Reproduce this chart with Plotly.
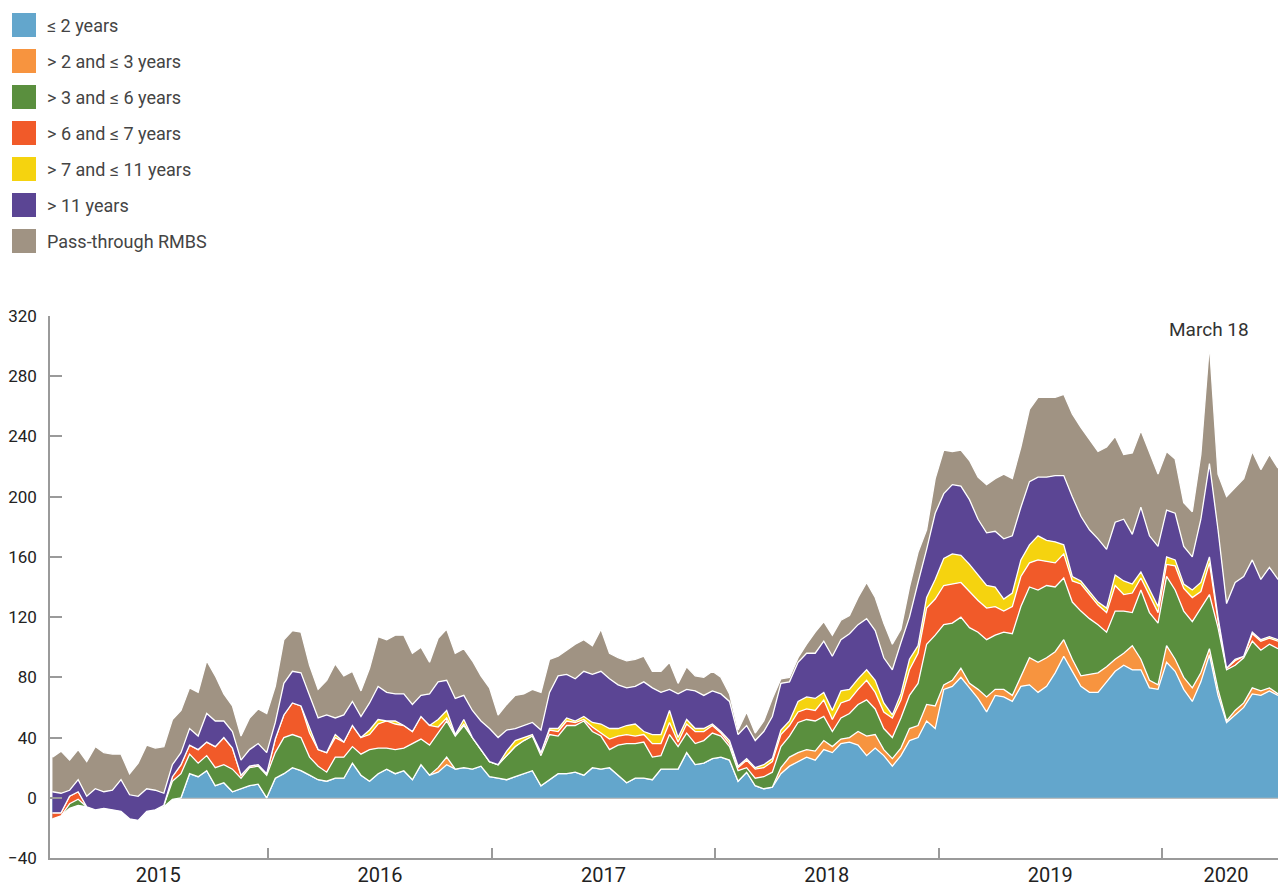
import pandas as pd
import plotly.graph_objects as go

# Weekly observations sampled every two weeks (Wednesdays)
dates = pd.date_range("2015-01-14", periods=144, freq="14D")

series_names = ["≤ 2 years", "> 2 and ≤ 3 years", "> 3 and ≤ 6 years", "> 6 and ≤ 7 years",
                "> 7 and ≤ 11 years", "> 11 years", "Pass-through RMBS"]
colors = ["#63A6CC", "#F7943F", "#5A8F3E", "#F15A29", "#F5D30F", "#5B4594", "#A09383"]

le2 = [-14, -12, -7, -5, -6, -8, -7, -8, -9, -14, -15, -9, -8, -6, -1, 0, 16, 14, 18, 8,
       10, 4, 6, 8, 9, 0, 13, 16, 20, 18, 15, 12, 11, 13, 13, 23, 15, 11, 16, 19,
       16, 18, 12, 22, 15, 17, 22, 19, 20, 19, 21, 14, 13, 12, 14, 16, 18, 8, 12, 16,
       16, 17, 15, 20, 19, 20, 15, 10, 13, 13, 12, 19, 19, 19, 30, 22, 23, 26, 27, 25,
       11, 17, 8, 6, 7, 16, 21, 24, 27, 25, 32, 30, 36, 37, 35, 28, 33, 28, 21, 28,
       38, 40, 51, 46, 72, 74, 80, 73, 66, 57, 68, 67, 64, 74, 75, 70, 74, 83, 94, 84,
       74, 70, 70, 77, 84, 88, 85, 85, 73, 72, 90, 84, 72, 64, 77, 95, 68, 50, 55, 60,
       69, 68, 71, 68]
gt2_le3 = [0, 0, 0, 0, 0, 0, 0, 0, 0, 0, 0, 0, 0, 0, 0, 0, 0, 0, 0, 0,
           0, 0, 0, 0, 0, 0, 0, 0, 0, 0, 0, 0, 0, 0, 0, 0, 0, 0, 0, 0,
           0, 0, 0, 0, 0, 3, 5, 0, 0, 0, 0, 0, 0, 0, 0, 0, 0, 0, 0, 0,
           0, 0, 0, 0, 0, 0, 0, 0, 0, 0, 0, 0, 0, 0, 0, 0, 0, 0, 0, 0,
           0, 0, 0, 0, 0, 4, 6, 6, 5, 6, 6, 4, 3, 3, 9, 13, 9, 4, 5, 5,
           8, 8, 11, 15, 3, 4, 6, 3, 6, 10, 4, 5, 4, 6, 18, 20, 19, 14, 11, 8,
           7, 12, 13, 10, 8, 8, 16, 7, 5, 3, 11, 8, 8, 9, 6, 4, 4, 1, 3, 3,
           4, 3, 2, 1]
gt3_le6 = [0, 0, 3, 4, 0, 0, 0, 0, 0, 0, 0, 0, 0, 1, 12, 16, 13, 9, 10, 12,
           12, 15, 7, 12, 12, 15, 17, 24, 22, 22, 12, 9, 6, 14, 14, 11, 14, 21, 17, 14,
           16, 15, 24, 17, 20, 23, 24, 22, 28, 21, 11, 10, 9, 16, 20, 22, 23, 20, 30, 25,
           32, 31, 36, 24, 22, 12, 20, 26, 23, 24, 15, 9, 23, 15, 13, 14, 15, 17, 14, 9,
           7, 3, 5, 8, 10, 14, 14, 20, 20, 20, 16, 10, 14, 16, 18, 24, 17, 14, 14, 20,
           22, 28, 40, 47, 40, 38, 34, 37, 38, 38, 36, 38, 41, 47, 47, 48, 48, 43, 41, 38,
           43, 37, 32, 23, 32, 28, 22, 46, 45, 41, 46, 46, 44, 44, 43, 36, 41, 34, 30, 30,
           31, 27, 29, 30]
gt6_le7 = [4, 2, 5, 5, 0, 0, 0, 0, 0, 0, 0, 0, 0, 0, 3, 6, 6, 9, 9, 14,
           18, 14, 2, 1, 1, 1, 9, 15, 21, 21, 16, 11, 13, 13, 10, 14, 11, 10, 16, 18,
           17, 15, 8, 15, 13, 4, 2, 1, 1, 0, 0, 0, 0, 0, 0, 0, 0, 2, 3, 3,
           3, 2, 1, 3, 2, 7, 6, 6, 5, 5, 9, 8, 8, 3, 6, 8, 6, 5, 2, 2,
           2, 5, 6, 6, 7, 8, 7, 7, 7, 7, 11, 8, 10, 9, 10, 13, 11, 11, 13, 12,
           17, 20, 24, 24, 26, 26, 23, 24, 21, 21, 19, 14, 18, 20, 16, 20, 16, 16, 16, 14,
           18, 16, 13, 13, 17, 11, 13, 8, 11, 7, 8, 16, 15, 16, 11, 21, 5, 1, 3, 1,
           5, 6, 4, 5]
gt7_le11 = [0, 0, 0, 0, 0, 0, 0, 0, 0, 0, 0, 0, 0, 0, 0, 0, 0, 0, 0, 0,
            0, 0, 0, 0, 0, 0, 0, 0, 0, 0, 3, 0, 0, 2, 0, 0, 0, 3, 3, 0,
            2, 0, 0, 0, 0, 5, 5, 0, 3, 0, 0, 0, 0, 3, 4, 2, 1, 0, 1, 2,
            2, 1, 2, 3, 6, 7, 5, 6, 8, 2, 6, 6, 8, 3, 3, 2, 2, 1, 1, 2,
            1, 1, 1, 2, 2, 3, 3, 7, 8, 8, 5, 6, 8, 7, 7, 7, 8, 6, 2, 4,
            7, 5, 7, 13, 18, 20, 18, 18, 17, 15, 13, 8, 9, 11, 12, 16, 14, 14, 6, 3,
            2, 2, 2, 3, 7, 9, 6, 4, 4, 4, 5, 4, 3, 5, 6, 4, 2, 0, 1, 0,
            1, 1, 1, 1]
gt11 = [14, 13, 4, 8, 7, 14, 11, 13, 21, 16, 16, 15, 13, 8, 8, 8, 11, 9, 19, 17,
        11, 11, 10, 11, 14, 14, 11, 21, 21, 22, 22, 21, 25, 11, 18, 16, 14, 18, 22, 19,
        18, 21, 18, 14, 21, 25, 20, 24, 16, 18, 19, 22, 18, 14, 8, 8, 8, 15, 24, 35,
        29, 28, 30, 32, 35, 33, 29, 25, 25, 33, 31, 28, 14, 29, 20, 25, 22, 22, 25, 26,
        21, 22, 18, 22, 28, 31, 26, 26, 29, 30, 34, 36, 34, 37, 36, 34, 33, 30, 30, 34,
        28, 42, 32, 44, 43, 46, 46, 43, 37, 35, 37, 40, 38, 35, 42, 39, 42, 44, 46, 53,
        43, 41, 42, 39, 35, 41, 33, 43, 36, 40, 31, 31, 25, 22, 42, 62, 58, 43, 51, 53,
        48, 40, 46, 40]
pass_through = [23, 28, 20, 20, 23, 28, 26, 24, 17, 14, 22, 29, 28, 31, 30, 28, 27, 29, 35, 30,
                18, 17, 16, 21, 23, 26, 24, 29, 27, 27, 20, 19, 23, 36, 26, 20, 17, 23, 33, 35,
                39, 39, 34, 32, 21, 29, 34, 30, 31, 33, 30, 27, 15, 17, 22, 21, 22, 25, 22, 13,
                16, 23, 21, 19, 28, 17, 18, 18, 18, 17, 11, 14, 18, 7, 15, 10, 12, 13, 11, 5,
                3, 9, 5, 7, 12, 3, 3, 3, 6, 14, 13, 14, 13, 12, 18, 24, 22, 23, 17, 9,
                20, 20, 13, 23, 29, 22, 24, 26, 28, 32, 35, 43, 38, 40, 48, 53, 53, 52, 54, 55,
                59, 60, 58, 68, 57, 43, 54, 51, 55, 48, 39, 36, 29, 30, 43, 79, 37, 71, 63, 65,
                72, 73, 75, 74]

series = [le2, gt2_le3, gt3_le6, gt6_le7, gt7_le11, gt11, pass_through]

year_labels = ["2015", "2016", "2017", "2018", "2019", "2020"]
year_label_pos = ["2015-07-06", "2016-07-02", "2017-07-02", "2018-07-02", "2019-07-02", "2020-04-14"]
y_ticks = [-40, 0, 40, 80, 120, 160, 200, 240, 280, 320]

FONT = "Roboto"
fig = go.Figure()
for name, vals, col in zip(series_names, series, colors):
    fig.add_trace(go.Scatter(
        x=dates, y=vals, name=name, stackgroup="one", mode="lines",
        line=dict(color="white", width=1.3), fillcolor=col, showlegend=False,
        hoverinfo="skip",
    ))

# Plot area geometry (pixels)
W, H = 1278, 888
L, R, T, B = 50, 0, 316, 30
pw, ph = W - L - R, H - T - B

def px_x(p):
    return (p - L) / pw

def px_y(p):
    return (H - B - p) / ph

shapes = []
annotations = []
for k, (name, col) in enumerate(zip(series_names, colors)):
    top = 13 + 36 * k
    shapes.append(dict(type="rect", xref="paper", yref="paper",
                       x0=px_x(12), x1=px_x(36), y0=px_y(top + 24), y1=px_y(top),
                       fillcolor=col, line=dict(width=0)))
    annotations.append(dict(xref="paper", yref="paper", x=px_x(45), y=px_y(top + 12),
                            text=name, showarrow=False, xanchor="left", yanchor="middle",
                            font=dict(family=FONT, size=18, color="#444444")))

annotations.append(dict(x="2020-03-18", y=311, xref="x", yref="y", text="March 18",
                        showarrow=False, xanchor="center", yanchor="middle",
                        font=dict(family=FONT, size=19, color="#333333")))

fig.update_layout(
    width=W, height=H, margin=dict(l=L, r=R, t=T, b=B, autoexpand=False),
    plot_bgcolor="white", paper_bgcolor="white",
    shapes=shapes, annotations=annotations, showlegend=False,
    font=dict(family=FONT, color="#333333"),
)
fig.update_xaxes(
    range=["2015-01-10", "2020-07-08"], type="date", automargin=False,
    showgrid=False, zeroline=False,
    showline=True, linecolor="#9a9a9a", linewidth=1.5,
    tickvals=year_label_pos, ticktext=year_labels, ticks="",
    tickfont=dict(family=FONT, size=20, color="#222222"),
    ticklabelstandoff=-2,
    minor=dict(ticks="inside", ticklen=10, tickcolor="#9a9a9a", tickwidth=1.5,
               dtick="M12", tick0="2015-01-01", showgrid=False),
)
fig.update_yaxes(
    range=[-40, 320], tickvals=y_ticks, showgrid=False, automargin=False,
    zeroline=True, zerolinecolor="#bdbdbd", zerolinewidth=1.5,
    showline=True, linecolor="#9a9a9a", linewidth=1.5,
    ticks="inside", ticklen=12, tickcolor="#9a9a9a", tickwidth=1.5,
    tickfont=dict(family=FONT, size=17, color="#222222"),
    ticklabelstandoff=8,
)

fig.write_html("out.html", config={"displayModeBar": False},
               post_script="document.body.style.margin='0px';")
